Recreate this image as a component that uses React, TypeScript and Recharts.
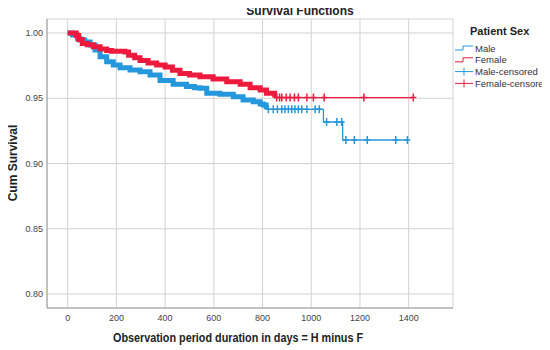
import React from "react";
import {
  ComposedChart,
  Line,
  Scatter,
  XAxis,
  YAxis,
  CartesianGrid,
} from "recharts";

// Kaplan-Meier steps: [day, cumulative survival]
const maleSteps = [
  [0, 1.0], [20, 0.9985], [40, 0.996], [50, 0.9946], [70, 0.993], [92, 0.9908],
  [112, 0.987], [133, 0.9818], [160, 0.978], [187, 0.9755], [215, 0.9734],
  [256, 0.9716], [297, 0.9703], [338, 0.9678], [379, 0.9635], [433, 0.9607],
  [488, 0.9589], [520, 0.958], [543, 0.9576], [571, 0.9538], [625, 0.953],
  [680, 0.9512], [720, 0.9487], [762, 0.9474], [790, 0.9455], [803, 0.9448],
  [815, 0.9415], [1050, 0.9318], [1129, 0.918], [1395, 0.918],
];

const femaleSteps = [
  [0, 1.0], [35, 0.998], [45, 0.995], [60, 0.992], [80, 0.991], [105, 0.9895],
  [133, 0.9877], [160, 0.9865], [180, 0.986], [235, 0.9855], [250, 0.983],
  [275, 0.981], [297, 0.979], [330, 0.977], [365, 0.9755], [400, 0.974],
  [430, 0.9715], [461, 0.969], [500, 0.9678], [543, 0.9665], [597, 0.9647],
  [653, 0.9627], [708, 0.9607], [749, 0.958], [790, 0.9563], [816, 0.9538],
  [850, 0.9505], [1419, 0.9505],
];

// censored observations in the sparse tail
const maleCensored = [
  [824, 0.9415], [844, 0.9415], [861, 0.9415], [879, 0.9415], [892, 0.9415],
  [906, 0.9415], [920, 0.9415], [933, 0.9415], [947, 0.9415], [961, 0.9415],
  [982, 0.9415], [1016, 0.9415], [1033, 0.9415],
  [1063, 0.9318], [1105, 0.9318], [1125, 0.9318],
  [1142, 0.918], [1177, 0.918], [1230, 0.918], [1347, 0.918], [1395, 0.918],
];

const femaleCensored = [
  [858, 0.9505], [870, 0.9505], [879, 0.9505], [897, 0.9505], [913, 0.9505],
  [931, 0.9505], [947, 0.9505], [982, 0.9505], [1009, 0.9505], [1053, 0.9505],
  [1216, 0.9505], [1419, 0.9505],
];

// where the censor marks are so dense the curve reads as a thick band
const maleDenseEnd = 815;
const femaleDenseEnd = 850;

const xTicks = [0, 200, 400, 600, 800, 1000, 1200, 1400];
const yTicks = [0.8, 0.85, 0.9, 0.95, 1.0];

const legendItems = ["Male", "Female", "Male-censored", "Female-censored"];

const BLUE = "#2597dd";
const RED = "#ee1a3d";
const FONT = "'Liberation Sans', Arial, sans-serif";

const toRows = (pts: number[][]) => pts.map(([t, s]) => ({ t, s }));

const cross = (color: string) => (props: any) => {
  const { cx, cy } = props;
  if (cx == null || cy == null) return <g />;
  return (
    <path
      d={`M${cx - 3},${cy}h6M${cx},${cy - 4}v8`}
      stroke={color}
      strokeWidth={1.5}
      fill="none"
    />
  );
};

export default function App() {
  const male = toRows(maleSteps);
  const female = toRows(femaleSteps);
  const maleDense = male.filter((p) => p.t <= maleDenseEnd);
  const femaleDense = female.filter((p) => p.t <= femaleDenseEnd);

  const legendColors = [BLUE, RED, BLUE, RED];

  return (
    <div style={{ position: "relative", width: 542, height: 342 }}>
      <ComposedChart
        width={542}
        height={342}
        margin={{ top: 11, right: 97, bottom: 0, left: 0 }}
      >
        <CartesianGrid stroke="#d2d2d2" strokeWidth={1} />
        <XAxis
          type="number"
          dataKey="t"
          domain={[-85, 1582]}
          ticks={xTicks}
          allowDataOverflow
          height={42}
          tickLine={false}
          tickSize={5}
          tickMargin={2}
          axisLine={{ stroke: "#9a9a9a" }}
          tick={{ fill: "#444", fontSize: 9, fontFamily: FONT }}
        />
        <YAxis
          type="number"
          domain={[0.7893, 1.0107]}
          ticks={yTicks}
          allowDataOverflow
          width={39}
          tickLine={false}
          tickSize={4}
          tickMargin={0}
          axisLine={{ stroke: "#9a9a9a" }}
          tickFormatter={(v: number) => v.toFixed(2)}
          tick={{ fill: "#444", fontSize: 9, fontFamily: FONT }}
        />
        <Line
          data={male}
          dataKey="s"
          type="stepAfter"
          stroke={BLUE}
          strokeWidth={1.3}
          dot={false}
          isAnimationActive={false}
        />
        <Line
          data={maleDense}
          dataKey="s"
          type="stepAfter"
          stroke={BLUE}
          strokeWidth={5}
          dot={false}
          isAnimationActive={false}
        />
        <Line
          data={female}
          dataKey="s"
          type="stepAfter"
          stroke={RED}
          strokeWidth={1.3}
          dot={false}
          isAnimationActive={false}
        />
        <Line
          data={femaleDense}
          dataKey="s"
          type="stepAfter"
          stroke={RED}
          strokeWidth={5}
          dot={false}
          isAnimationActive={false}
        />
        <Scatter
          data={toRows(maleCensored)}
          dataKey="s"
          shape={cross(BLUE)}
          isAnimationActive={false}
        />
        <Scatter
          data={toRows(femaleCensored)}
          dataKey="s"
          shape={cross(RED)}
          isAnimationActive={false}
        />
      </ComposedChart>

      {/* titles and legend, in page coordinates */}
      <svg
        width={550}
        height={350}
        style={{ position: "absolute", left: -8, top: -8, pointerEvents: "none" }}
        fontFamily={FONT}
      >
        <text x={300} y={15} textAnchor="middle" fontSize={12} fontWeight="bold" fill="#222">
          Survival Functions
        </text>
        <text
          x={17}
          y={163}
          transform="rotate(-90 17 163)"
          textAnchor="middle"
          fontSize={12}
          fontWeight="bold"
          fill="#222"
        >
          Cum Survival
        </text>
        <text
          x={238}
          y={342}
          textAnchor="middle"
          fontSize={12}
          fontWeight="bold"
          fill="#222"
          textLength={250}
          lengthAdjust="spacingAndGlyphs"
        >
          Observation period duration in days = H minus F
        </text>

        <text x={470} y={35} fontSize={11} fontWeight="bold" fill="#222">
          Patient Sex
        </text>
        {legendItems.map((name, i) => {
          const cy = 48 + i * 11.8;
          const color = legendColors[i];
          const censored = i >= 2;
          return (
            <g key={name}>
              {censored ? (
                <>
                  <line x1={455} x2={473} y1={cy} y2={cy} stroke={color} strokeWidth={1} />
                  <line x1={464} x2={464} y1={cy - 4} y2={cy + 4} stroke={color} strokeWidth={1} />
                </>
              ) : (
                <path
                  d={`M455,${cy + 2}H463V${cy - 2}H473`}
                  stroke={color}
                  strokeWidth={1}
                  fill="none"
                />
              )}
              <text x={475} y={cy + 3.5} fontSize={9.5} fill="#333">
                {name}
              </text>
            </g>
          );
        })}
      </svg>
    </div>
  );
}
